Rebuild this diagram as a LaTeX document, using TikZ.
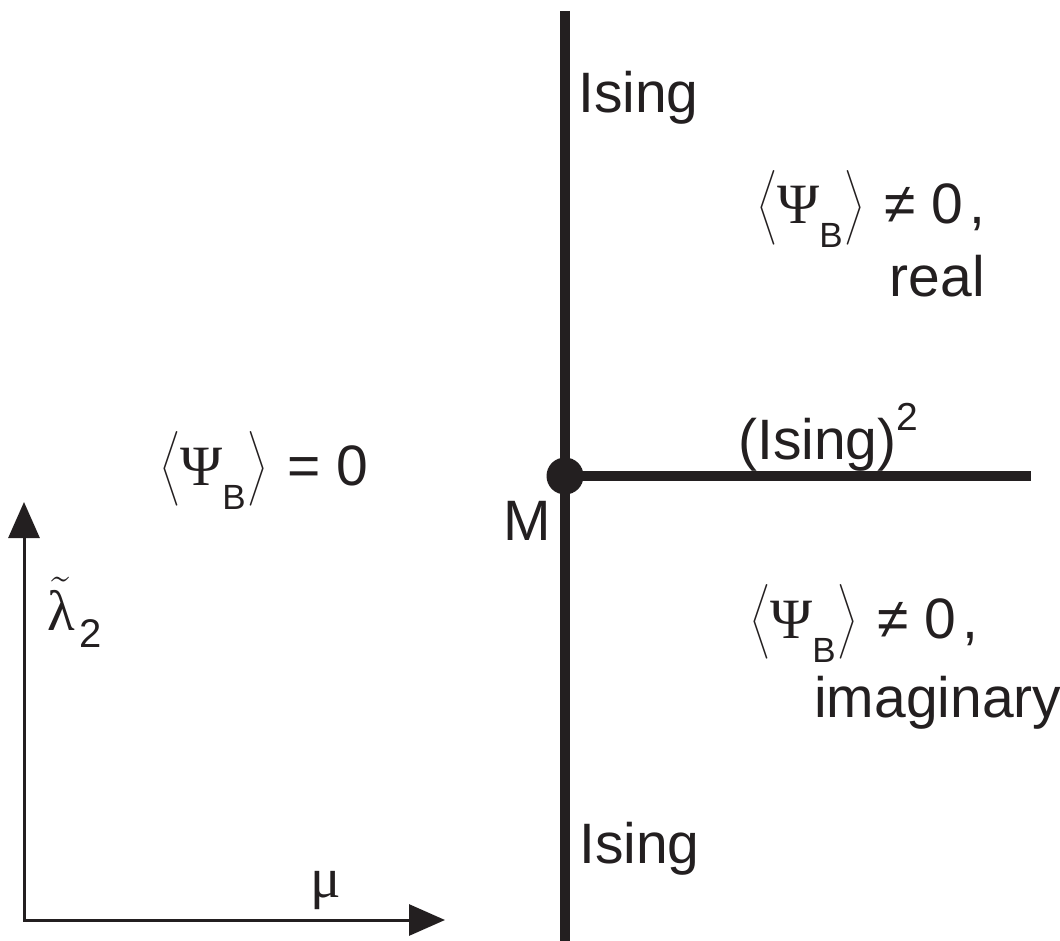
\RequirePackage{fix-cm}
\documentclass[tikz,border=0pt]{standalone}
\usepackage{amsmath}
\usepackage{fontspec}
\setmainfont{Liberation Sans}
\newfontfamily\greekfont{Liberation Serif}
\usetikzlibrary{arrows.meta}
\definecolor{ink}{RGB}{35,31,32}
\newcommand{\angbr}[1]{{\fontsize{65}{65}\selectfont$\big#1$}}
\newcommand{\psiB}{\angbr\langle{\greekfont Ψ}\raisebox{-24pt}{\fontsize{35}{35}\selectfont B}\hspace{2pt}\angbr\rangle\hspace{4pt}}

\begin{document}
\begin{tikzpicture}[x=1pt, y=-1pt,
    lbl/.style={font=\fontsize{57}{64}\selectfont, inner sep=0pt, text=ink}]
    \useasboundingbox (0,0) rectangle (1060,941);

    % Define coordinates
    \coordinate (Ntop) at (565,11);
    \coordinate (Nbot) at (565,941);
    \coordinate (Eend) at (1031,476);
    \coordinate (O) at (24,920);
    \coordinate (Xend) at (445,920);
    \coordinate (Yend) at (24,502);

    % Phase boundaries and the multicritical point
    \draw[ink, line width=10pt] (Ntop) -- (Nbot);
    \node[circle, fill=ink, minimum size=37pt, inner sep=0pt] (M) at (565,476) {};
    \draw[ink, line width=10pt] (M.center) -- (Eend);

    % Axes
    \draw[ink, line width=3pt, {Triangle[length=36pt, width=31pt]}-{Triangle[length=36pt, width=31pt]}]
        (Yend) -- (O) -- (Xend);

    % Line labels
    \node[lbl, anchor=base west] (isingN) at (578,113) {Ising};
    \node[lbl, anchor=base west] (isingS) at (579,863) {Ising};
    \node[lbl, anchor=base west] (isingsq) at (738,459) {(Ising)\raisebox{29pt}{\fontsize{39}{39}\selectfont 2}};
    \node[lbl, anchor=base east] (mlab) at (551,540) {M};

    % Phases
    \node[lbl, anchor=base west] (disord) at (160,485) {\psiB{} = 0};
    \node[lbl, anchor=base west] (realA) at (757,224) {\psiB{} ≠ 0\hspace{6pt},};
    \node[lbl, anchor=base east] (realB) at (985,297) {real};
    \node[lbl, anchor=base west] (imagA) at (750,638) {\psiB{} ≠ 0\hspace{6pt},};
    \node[lbl, anchor=base west] (imagB) at (814,717) {imaginary};

    % Axis labels
    \node[lbl, anchor=base west] (lam) at (47,630) {$\tilde{\text{\greekfont λ}}$\hspace{5pt}\raisebox{-17pt}{\fontsize{40}{40}\selectfont 2}};
    \node[lbl, anchor=base west] (mu) at (310,897) {\greekfont μ};
\end{tikzpicture}
\end{document}
